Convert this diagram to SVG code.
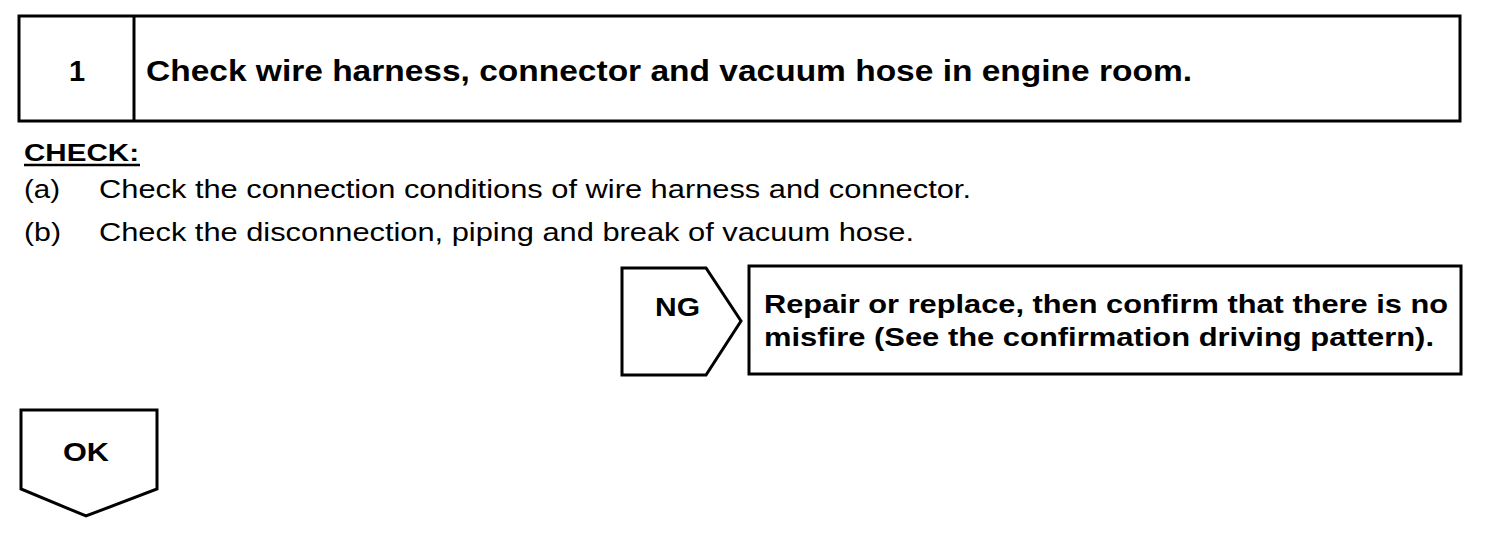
<svg xmlns="http://www.w3.org/2000/svg" width="1504" height="544" viewBox="0 0 1504 544">
<style>
.box{fill:#fff;stroke:#000;stroke-width:3;stroke-linejoin:miter}
.b{font-family:"Liberation Sans",Arial,sans-serif;font-weight:bold;fill:#000}
.r{font-family:"Liberation Sans",Arial,sans-serif;fill:#000}
</style>
<rect width="1504" height="544" fill="#fff"/>
<g id="step1">
<rect class="box" x="19" y="16" width="1441" height="105"/>
<line x1="134" y1="16" x2="134" y2="121" stroke="#000" stroke-width="3"/>
<text class="b" x="77" y="81" font-size="29" text-anchor="middle">1</text>
<text class="b" x="146" y="81" font-size="29" textLength="1046" lengthAdjust="spacingAndGlyphs">Check wire harness, connector and vacuum hose in engine room.</text>
</g>
<g id="check">
<text class="b" x="24" y="161" font-size="23" textLength="115" lengthAdjust="spacingAndGlyphs">CHECK:</text>
<line x1="24" y1="165" x2="140" y2="165" stroke="#000" stroke-width="2.5"/>
<text class="r" x="24" y="198" font-size="25" textLength="36" lengthAdjust="spacingAndGlyphs">(a)</text>
<text class="r" x="99" y="198" font-size="25" textLength="872" lengthAdjust="spacingAndGlyphs">Check the connection conditions of wire harness and connector.</text>
<text class="r" x="24" y="241" font-size="25" textLength="37" lengthAdjust="spacingAndGlyphs">(b)</text>
<text class="r" x="99" y="241" font-size="25" textLength="815" lengthAdjust="spacingAndGlyphs">Check the disconnection, piping and break of vacuum hose.</text>
</g>
<g id="ng">
<polygon class="box" points="622,268 706,268 741,321 706,375 622,375"/>
<text class="b" x="655" y="316" font-size="26" textLength="45" lengthAdjust="spacingAndGlyphs">NG</text>
</g>
<g id="repair">
<rect class="box" x="749" y="266" width="712" height="108"/>
<text class="b" x="764" y="313" font-size="26" textLength="684" lengthAdjust="spacingAndGlyphs">Repair or replace, then confirm that there is no</text>
<text class="b" x="764" y="346" font-size="26" textLength="670" lengthAdjust="spacingAndGlyphs">misfire (See the confirmation driving pattern).</text>
</g>
<g id="ok">
<polygon class="box" points="21,410 157,410 157,489 86,516 21,489"/>
<text class="b" x="63" y="461" font-size="26" textLength="46" lengthAdjust="spacingAndGlyphs">OK</text>
</g>
<g id="connectors"></g>
</svg>
